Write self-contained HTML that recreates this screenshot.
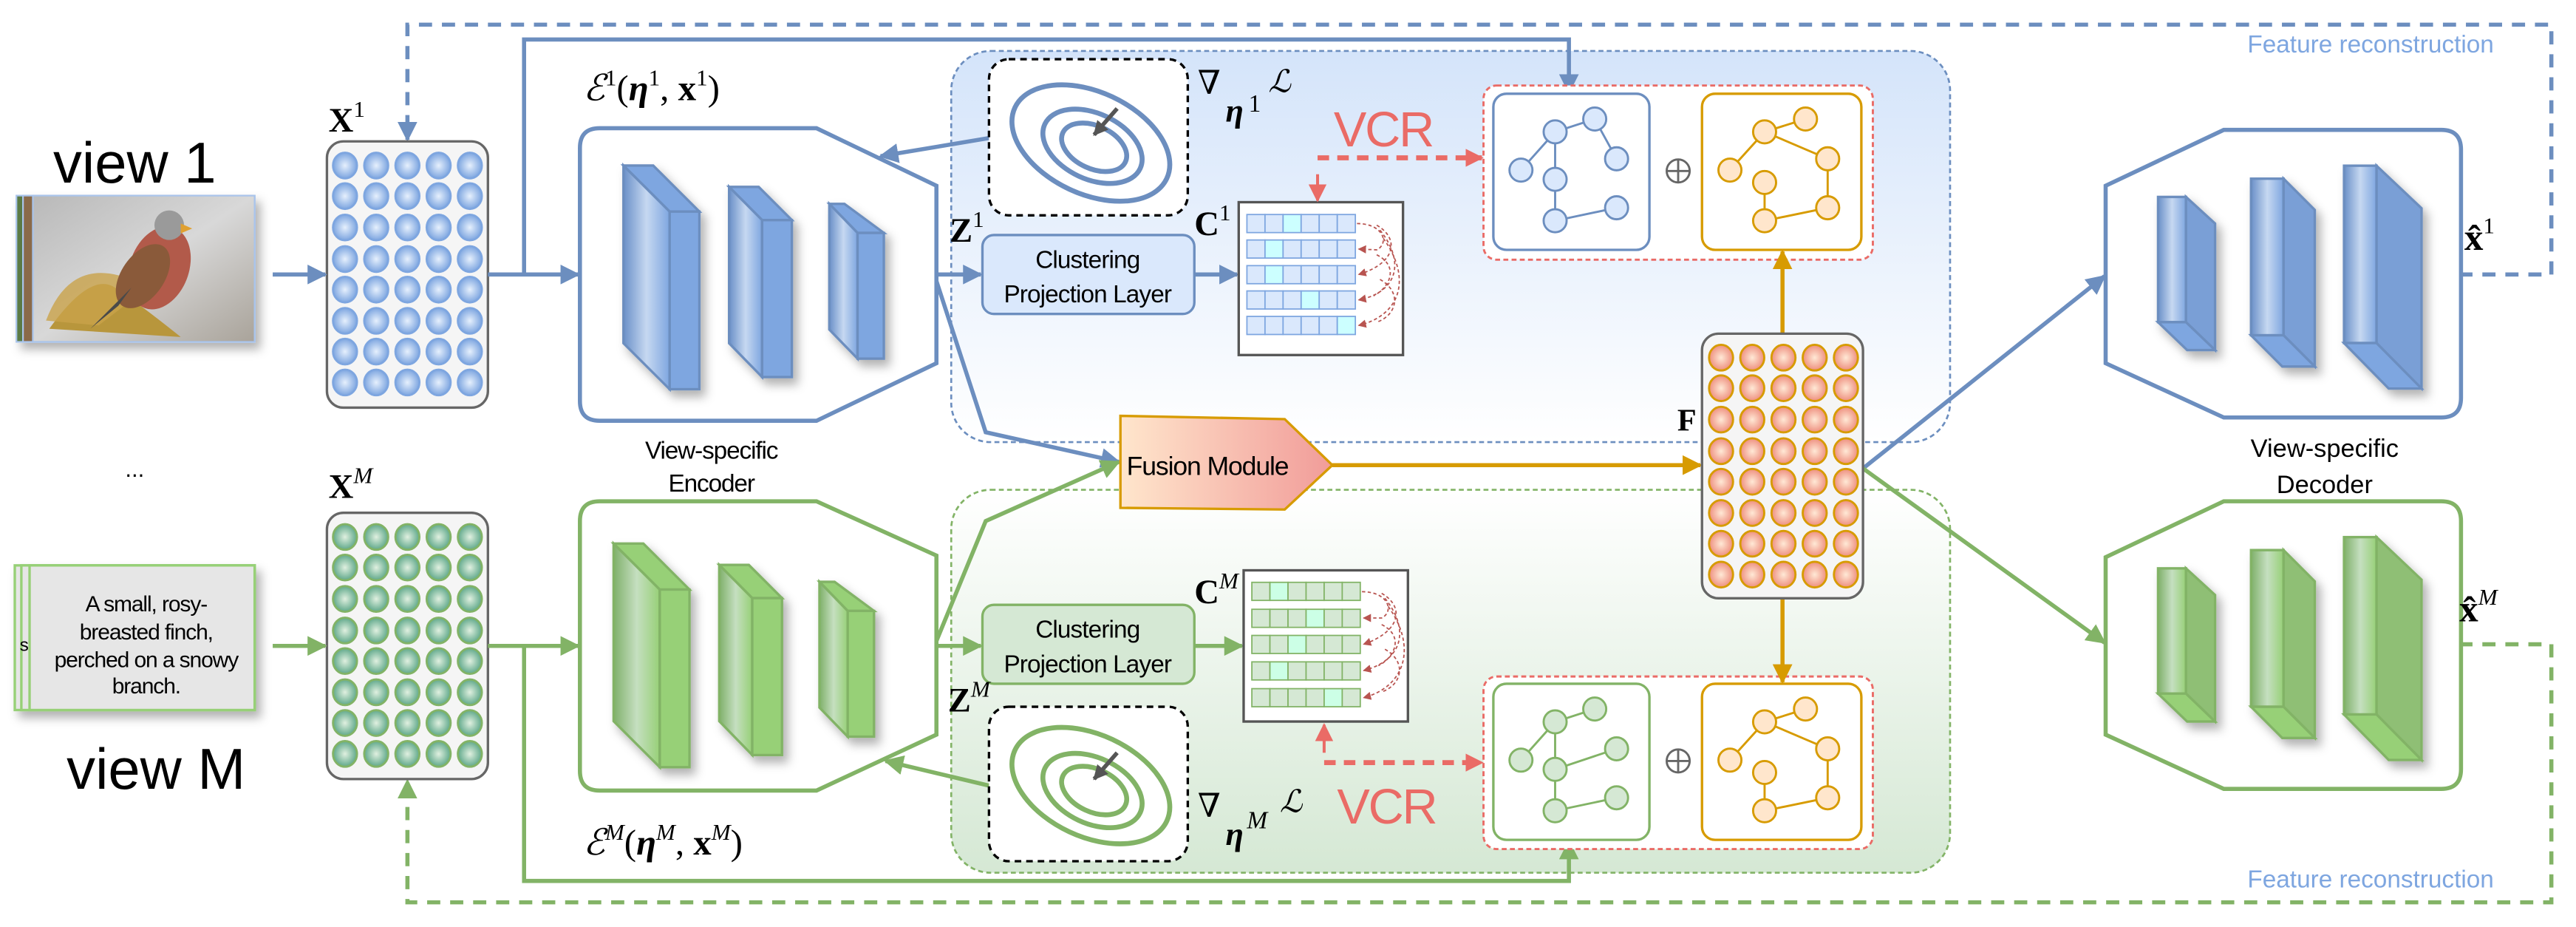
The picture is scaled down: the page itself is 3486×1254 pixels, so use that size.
<!DOCTYPE html>
<html><head><meta charset="utf-8"><style>
html,body{margin:0;padding:0;background:#fff}
svg{display:block}
.s{font-family:"Liberation Sans","DejaVu Sans",sans-serif}
.m{font-family:"Liberation Serif","DejaVu Serif",serif}
</style></head><body>
<svg width="3486" height="1254" viewBox="0 0 1568 564" xmlns="http://www.w3.org/2000/svg">
<defs>
<marker id="ab" viewBox="0 0 10 10" refX="9" refY="5" markerWidth="12" markerHeight="12" markerUnits="userSpaceOnUse" orient="auto"><path d="M0,0L10,5L0,10z" fill="#6c8ebf"/></marker>
<marker id="ag" viewBox="0 0 10 10" refX="9" refY="5" markerWidth="12" markerHeight="12" markerUnits="userSpaceOnUse" orient="auto"><path d="M0,0L10,5L0,10z" fill="#82b366"/></marker>
<marker id="ao" viewBox="0 0 10 10" refX="9" refY="5" markerWidth="12" markerHeight="12" markerUnits="userSpaceOnUse" orient="auto"><path d="M0,0L10,5L0,10z" fill="#d79b00"/></marker>
<marker id="ar" viewBox="0 0 10 10" refX="9" refY="5" markerWidth="11" markerHeight="11" markerUnits="userSpaceOnUse" orient="auto"><path d="M0,0L10,5L0,10z" fill="#ea6b66"/></marker>
<marker id="ard" viewBox="0 0 10 10" refX="9" refY="5" markerWidth="5" markerHeight="5" markerUnits="userSpaceOnUse" orient="auto"><path d="M0,0L10,5L0,10z" fill="#b85450"/></marker>
<marker id="ak" viewBox="0 0 10 10" refX="9" refY="5" markerWidth="9" markerHeight="9" markerUnits="userSpaceOnUse" orient="auto"><path d="M0,0L10,5L0,10z" fill="#555"/></marker>
<radialGradient id="cb" cx="0.5" cy="0.5" r="0.5"><stop offset="0" stop-color="#e6f0fd"/><stop offset="1" stop-color="#7ea6e0"/></radialGradient>
<radialGradient id="cg" cx="0.5" cy="0.5" r="0.5"><stop offset="0" stop-color="#e0f0e0"/><stop offset="1" stop-color="#5fa88a"/></radialGradient>
<radialGradient id="co" cx="0.5" cy="0.5" r="0.5"><stop offset="0" stop-color="#ffe9d6"/><stop offset="1" stop-color="#ee8f7f"/></radialGradient>
<linearGradient id="rb" x1="0" y1="0" x2="0" y2="1"><stop offset="0" stop-color="#d4e4fa"/><stop offset="1" stop-color="#ffffff"/></linearGradient>
<linearGradient id="rg" x1="0" y1="0" x2="0" y2="1"><stop offset="0" stop-color="#ffffff"/><stop offset="1" stop-color="#d5e8d4"/></linearGradient>
<linearGradient id="fu" x1="0" y1="0" x2="1" y2="0"><stop offset="0" stop-color="#ffe6cc"/><stop offset="1" stop-color="#f19c99"/></linearGradient>
<linearGradient id="bb" x1="0" y1="0" x2="1" y2="0"><stop offset="0" stop-color="#6a90c8"/><stop offset="0.5" stop-color="#c6d8f1"/><stop offset="1" stop-color="#7ea6e0"/></linearGradient>
<linearGradient id="gb" x1="0" y1="0" x2="1" y2="0"><stop offset="0" stop-color="#7fb06a"/><stop offset="0.5" stop-color="#c5dfc0"/><stop offset="1" stop-color="#97d077"/></linearGradient>
<linearGradient id="bird" x1="0" y1="0" x2="1" y2="1"><stop offset="0" stop-color="#b9b9b9"/><stop offset="0.5" stop-color="#d8d8d8"/><stop offset="1" stop-color="#a9a39a"/></linearGradient>
<filter id="sh" x="-20%" y="-20%" width="150%" height="150%"><feDropShadow dx="3" dy="4" stdDeviation="3" flood-color="#000" flood-opacity="0.3"/></filter>
</defs>

<rect x="579" y="31" width="608" height="238" rx="24" fill="url(#rb)" stroke="#6c8ebf" stroke-width="1.2" stroke-dasharray="3,2"/>
<rect x="579" y="298" width="608" height="233" rx="24" fill="url(#rg)" stroke="#82b366" stroke-width="1.2" stroke-dasharray="3,2"/>

<polyline points="1497,167 1553,167 1553,15 248,15 248,85" fill="none" stroke="#6c8ebf" stroke-width="2.5" stroke-dasharray="8,6" marker-end="url(#ab)"/>
<polyline points="1497,392 1553,392 1553,549 248,549 248,475" fill="none" stroke="#82b366" stroke-width="2.5" stroke-dasharray="8,6" marker-end="url(#ag)"/>
<text class="s" x="1518" y="32" font-size="15" fill="#7ea6e0" text-anchor="end">Feature reconstruction</text>
<text class="s" x="1518" y="540" font-size="15" fill="#7ea6e0" text-anchor="end">Feature reconstruction</text>

<text class="s" x="82" y="111" font-size="35" text-anchor="middle">view 1</text>
<text class="s" x="82" y="290" font-size="14" text-anchor="middle">...</text>
<text class="s" x="95" y="480" font-size="35" text-anchor="middle">view M</text>
<g filter="url(#sh)">
<rect x="10" y="119" width="145" height="89" fill="#5a7a45" stroke="#a9c4eb"/>
<rect x="14" y="119" width="141" height="89" fill="#8a6a4a" stroke="#a9c4eb"/>
<rect x="20" y="119" width="135" height="89" fill="url(#bird)" stroke="#a9c4eb"/>
</g>
<path d="M30,200 Q55,165 70,175 Q85,185 110,205 Z" fill="#b8963c"/>
<path d="M28,195 Q45,150 90,175 L60,198 Z" fill="#c9a34a" opacity="0.8"/>
<ellipse cx="97" cy="163" rx="18" ry="26" fill="#b25a4a" transform="rotate(20 97 163)"/>
<ellipse cx="87" cy="168" rx="13" ry="22" fill="#8a5a3a" transform="rotate(35 87 168)"/>
<circle cx="103" cy="137" r="9" fill="#9a9a9a"/>
<path d="M110,136 L117,139 L110,142 Z" fill="#e0a030"/>
<path d="M80,175 L55,200 L72,186 Z" fill="#4a4a4a"/>
<g filter="url(#sh)">
<rect x="9" y="344" width="146" height="88" fill="#e6e6e6" stroke="#97d077" stroke-width="1.5"/>
<rect x="13" y="344" width="142" height="88" fill="#e6e6e6" stroke="#97d077" stroke-width="1.5"/>
<rect x="18" y="344" width="137" height="88" fill="#e6e6e6" stroke="#97d077" stroke-width="1.5"/>
</g>
<text class="s" x="12" y="396" font-size="11">s</text>
<g class="s" font-size="13.5" text-anchor="middle" letter-spacing="-0.5">
<text x="89" y="372">A small, rosy-</text>
<text x="89" y="389">breasted finch,</text>
<text x="89" y="406">perched on a snowy</text>
<text x="89" y="422">branch.</text>
</g>

<rect x="199" y="86" width="98" height="162" rx="10" fill="#f5f5f5" stroke="#666" stroke-width="1.5"/>
<rect x="199" y="312" width="98" height="162" rx="10" fill="#f5f5f5" stroke="#666" stroke-width="1.5"/>
<text class="m" x="200" y="80" font-size="21" font-weight="bold">X<tspan font-size="14" dy="-9" font-weight="normal">1</tspan></text>
<text class="m" x="200" y="303" font-size="21" font-weight="bold">X<tspan font-size="14" dy="-9" font-weight="normal" font-style="italic">M</tspan></text>

<g fill="none" stroke="#6c8ebf" stroke-width="2.5">
<line x1="166" y1="167" x2="198" y2="167" marker-end="url(#ab)"/>
<line x1="297" y1="167" x2="352" y2="167" marker-end="url(#ab)"/>
<polyline points="319,167 319,24 955,24 955,56" marker-end="url(#ab)"/>
<line x1="570" y1="167" x2="597" y2="167" marker-end="url(#ab)"/>
<polyline points="570,171 600,263 681,281" marker-end="url(#ab)"/>
<line x1="602" y1="84" x2="536" y2="95" marker-end="url(#ab)"/>
<line x1="727" y1="167" x2="753" y2="167" marker-end="url(#ab)"/>
<line x1="1134" y1="285" x2="1281" y2="168" marker-end="url(#ab)"/>
</g>
<g fill="none" stroke="#82b366" stroke-width="2.5">
<line x1="166" y1="393" x2="198" y2="393" marker-end="url(#ag)"/>
<line x1="297" y1="393" x2="352" y2="393" marker-end="url(#ag)"/>
<polyline points="319,393 319,536 955,536 955,512" marker-end="url(#ag)"/>
<line x1="570" y1="393" x2="597" y2="393" marker-end="url(#ag)"/>
<polyline points="570,390 600,317 681,281" marker-end="url(#ag)"/>
<line x1="602" y1="478" x2="539" y2="463" marker-end="url(#ag)"/>
<line x1="727" y1="393" x2="756" y2="393" marker-end="url(#ag)"/>
<line x1="1134" y1="285" x2="1281" y2="391" marker-end="url(#ag)"/>
</g>

<path d="M365,78 H497 L570,113 V221 L497,256 H365 Q353,256 353,244 V90 Q353,78 365,78 Z" fill="#fff" stroke="#6c8ebf" stroke-width="2.5"/>
<path d="M365,305 H497 L570,338 V447 L497,481 H365 Q353,481 353,469 V317 Q353,305 365,305 Z" fill="#fff" stroke="#82b366" stroke-width="2.5"/>
<g stroke="#6c8ebf" stroke-width="1.5" filter="url(#sh)">
<path d="M379.5,100.7 L397.6,100.7 L425.7,128.7 L407.6,128.7 Z" fill="#7ea6e0"/>
<path d="M379.5,100.7 L407.6,128.7 L407.6,236.8 L379.5,208.8 Z" fill="url(#bb)"/>
<rect x="407.6" y="128.7" width="18.1" height="108.1" fill="#7ea6e0"/>
<path d="M443.8,113.7 L461.8,113.7 L482,133.9 L463.9,133.9 Z" fill="#7ea6e0"/>
<path d="M443.8,113.7 L463.9,133.9 L463.9,229.4 L443.8,208.8 Z" fill="url(#bb)"/>
<rect x="463.9" y="133.9" width="18.1" height="95.5" fill="#7ea6e0"/>
<path d="M504.8,124 L514,124 L538,141.7 L522,141.7 Z" fill="#7ea6e0"/>
<path d="M504.8,124 L522,141.7 L522,218.2 L504.8,200.5 Z" fill="url(#bb)"/>
<rect x="522" y="141.7" width="16" height="76.5" fill="#7ea6e0"/>
</g>
<g transform="translate(-6,230)" stroke="#82b366" stroke-width="1.5" filter="url(#sh)">
<path d="M379.5,100.7 L397.6,100.7 L425.7,128.7 L407.6,128.7 Z" fill="#97d077"/>
<path d="M379.5,100.7 L407.6,128.7 L407.6,236.8 L379.5,208.8 Z" fill="url(#gb)"/>
<rect x="407.6" y="128.7" width="18.1" height="108.1" fill="#97d077"/>
<path d="M443.8,113.7 L461.8,113.7 L482,133.9 L463.9,133.9 Z" fill="#97d077"/>
<path d="M443.8,113.7 L463.9,133.9 L463.9,229.4 L443.8,208.8 Z" fill="url(#gb)"/>
<rect x="463.9" y="133.9" width="18.1" height="95.5" fill="#97d077"/>
<path d="M504.8,124 L514,124 L538,141.7 L522,141.7 Z" fill="#97d077"/>
<path d="M504.8,124 L522,141.7 L522,218.2 L504.8,200.5 Z" fill="url(#gb)"/>
<rect x="522" y="141.7" width="16" height="76.5" fill="#97d077"/>
</g>
<g class="s" font-size="15" text-anchor="middle" letter-spacing="-0.5">
<text x="433" y="279">View-specific</text>
<text x="433" y="299">Encoder</text>
</g>
<text class="m" x="355" y="61" font-size="22" font-style="italic">ℰ<tspan font-size="14" dy="-9" font-style="normal">1</tspan><tspan dy="9" font-style="normal">(</tspan><tspan font-weight="bold">η</tspan><tspan font-size="14" dy="-9" font-style="normal">1</tspan><tspan dy="9" font-style="normal">, </tspan><tspan font-weight="bold" font-style="normal">x</tspan><tspan font-size="14" dy="-9" font-style="normal">1</tspan><tspan dy="9" font-style="normal">)</tspan></text>
<text class="m" x="355" y="520" font-size="22" font-style="italic">ℰ<tspan font-size="14" dy="-9">M</tspan><tspan dy="9" font-style="normal">(</tspan><tspan font-weight="bold">η</tspan><tspan font-size="14" dy="-9">M</tspan><tspan dy="9" font-style="normal">, </tspan><tspan font-weight="bold" font-style="normal">x</tspan><tspan font-size="14" dy="-9">M</tspan><tspan dy="9" font-style="normal">)</tspan></text>

<rect x="602" y="36" width="121" height="95" rx="12" fill="#fff" stroke="#000" stroke-width="1.5" stroke-dasharray="4,3"/>
<g fill="none" stroke="#6c8ebf" stroke-width="3">
<ellipse cx="664" cy="87" rx="51" ry="31" transform="rotate(25 664 87)"/>
<ellipse cx="665" cy="89" rx="32" ry="20" transform="rotate(25 665 89)"/>
<ellipse cx="666" cy="89.6" rx="21" ry="13" transform="rotate(25 666 89.6)"/>
</g>
<line x1="680" y1="66" x2="666" y2="82" stroke="#555" stroke-width="2.5" marker-end="url(#ak)"/>
<rect x="602" y="430" width="121" height="94" rx="12" fill="#fff" stroke="#000" stroke-width="1.5" stroke-dasharray="4,3"/>
<g fill="none" stroke="#82b366" stroke-width="3">
<ellipse cx="664" cy="478" rx="51" ry="31" transform="rotate(25 664 478)"/>
<ellipse cx="665" cy="481" rx="32" ry="20" transform="rotate(25 665 481)"/>
<ellipse cx="666" cy="481" rx="21" ry="13" transform="rotate(25 666 481)"/>
</g>
<line x1="680" y1="458" x2="666" y2="474" stroke="#555" stroke-width="2.5" marker-end="url(#ak)"/>
<text class="m" x="729" y="57" font-size="20">∇</text>
<text class="m" x="746" y="74" font-size="20" font-style="italic" font-weight="bold">η</text>
<text class="m" x="760" y="68" font-size="15">1</text>
<text class="m" x="772" y="56" font-size="19" font-style="italic">ℒ</text>
<text class="m" x="729" y="497" font-size="20">∇</text>
<text class="m" x="746" y="514" font-size="20" font-style="italic" font-weight="bold">η</text>
<text class="m" x="759" y="504" font-size="15" font-style="italic">M</text>
<text class="m" x="779" y="494" font-size="19" font-style="italic">ℒ</text>

<rect x="598" y="143" width="129" height="48" rx="7" fill="#dae8fc" stroke="#6c8ebf" stroke-width="1.5"/>
<rect x="598" y="368" width="129" height="48" rx="7" fill="#d5e8d4" stroke="#82b366" stroke-width="1.5"/>
<g class="s" font-size="15" text-anchor="middle" letter-spacing="-0.4">
<text x="662" y="163">Clustering</text><text x="662" y="184">Projection Layer</text>
<text x="662" y="388">Clustering</text><text x="662" y="409">Projection Layer</text>
</g>
<text class="m" x="578" y="147" font-size="21" font-weight="bold">Z<tspan font-size="14" dy="-9" font-weight="normal">1</tspan></text>
<text class="m" x="577" y="433" font-size="21" font-weight="bold">Z<tspan font-size="14" dy="-9" font-weight="normal" font-style="italic">M</tspan></text>

<rect x="754" y="123" width="100" height="93" fill="#fff" stroke="#555" stroke-width="1.5"/>
<rect x="757" y="347" width="100" height="92" fill="#fff" stroke="#555" stroke-width="1.5"/>
<text class="m" x="727" y="143" font-size="21" font-weight="bold">C<tspan font-size="14" dy="-9" font-weight="normal">1</tspan></text>
<text class="m" x="727" y="367" font-size="21" font-weight="bold">C<tspan font-size="14" dy="-9" font-weight="normal" font-style="italic">M</tspan></text>

<text class="s" x="842" y="89" font-size="30" fill="#ea6b66" text-anchor="middle" letter-spacing="-1">VCR</text>
<text class="s" x="844" y="501" font-size="30" fill="#ea6b66" text-anchor="middle" letter-spacing="-1">VCR</text>
<g fill="none" stroke="#ea6b66" stroke-width="3" stroke-dasharray="7,5">
<line x1="802" y1="96" x2="902" y2="96" marker-end="url(#ar)"/>
<line x1="806" y1="464" x2="902" y2="464" marker-end="url(#ar)"/>
</g>
<g fill="none" stroke="#ea6b66" stroke-width="1.8">
<line x1="802" y1="106" x2="802" y2="122" marker-end="url(#ar)"/>
<line x1="806" y1="458" x2="806" y2="441" marker-end="url(#ar)"/>
</g>

<rect x="903" y="52" width="237" height="106" rx="8" fill="#fff" stroke="#ea6b66" stroke-width="1.3" stroke-dasharray="3,2"/>
<rect x="909" y="57" width="95" height="95" rx="8" fill="#fff" stroke="#6c8ebf" stroke-width="1.5"/>
<rect x="1036" y="57" width="97" height="95" rx="8" fill="#fff" stroke="#d79b00" stroke-width="1.5"/>
<rect x="903" y="411.6" width="237" height="105" rx="8" fill="#fff" stroke="#ea6b66" stroke-width="1.3" stroke-dasharray="3,2"/>
<rect x="909" y="416" width="95" height="95" rx="8" fill="#fff" stroke="#82b366" stroke-width="1.5"/>
<rect x="1036" y="416" width="97" height="95" rx="8" fill="#fff" stroke="#d79b00" stroke-width="1.5"/>
<g stroke="#666" stroke-width="1.3" fill="none">
<circle cx="1021.5" cy="104" r="7"/><line x1="1014.5" y1="104" x2="1028.5" y2="104"/><line x1="1021.5" y1="97" x2="1021.5" y2="111"/>
<circle cx="1021.5" cy="463" r="7"/><line x1="1014.5" y1="463" x2="1028.5" y2="463"/><line x1="1021.5" y1="456" x2="1021.5" y2="470"/>
</g>

<path d="M682,253 L782,255 L811,283 L782,310 L682,309 Z" fill="url(#fu)" stroke="#d79b00" stroke-width="1.5"/>
<text class="s" x="735" y="289" font-size="16" text-anchor="middle" letter-spacing="-0.5">Fusion Module</text>
<g stroke="#d79b00" stroke-width="2.5" fill="none">
<line x1="811" y1="283" x2="1035" y2="283" marker-end="url(#ao)"/>
<line x1="1085" y1="203" x2="1085" y2="153" marker-end="url(#ao)"/>
<line x1="1085" y1="364" x2="1085" y2="415" marker-end="url(#ao)"/>
</g>
<rect x="1036" y="203" width="98" height="161" rx="10" fill="#f5f5f5" stroke="#666" stroke-width="1.5"/>
<text class="m" x="1021" y="262" font-size="19" font-weight="bold">F</text>

<path d="M1281.7,113 L1353.6,79 H1486 Q1498,79 1498,91 V242 Q1498,254 1486,254 H1353.6 L1281.7,221 Z" fill="#fff" stroke="#6c8ebf" stroke-width="2.5"/>
<path d="M1281.7,339 L1353.6,305 H1486 Q1498,305 1498,317 V468 Q1498,480 1486,480 H1353.6 L1281.7,447 Z" fill="#fff" stroke="#82b366" stroke-width="2.5"/>
<g stroke="#6c8ebf" stroke-width="1.5" filter="url(#sh)">
<rect x="1313.6" y="119.8" width="17" height="76.2" fill="url(#bb)"/>
<path d="M1330.6,119.8 L1348.3,136 L1348.3,213 L1330.6,196 Z" fill="#7a9fd6"/>
<path d="M1313.6,196 L1330.6,196 L1348.3,213 L1331.3,213 Z" fill="#7ea6e0"/>
<rect x="1370.2" y="108.7" width="19.8" height="95.3" fill="url(#bb)"/>
<path d="M1390,108.7 L1409,127.7 L1409,223 L1390,204 Z" fill="#7a9fd6"/>
<path d="M1370.2,204 L1390,204 L1409,223 L1389.2,223 Z" fill="#7ea6e0"/>
<rect x="1426.8" y="100.8" width="19.8" height="107.9" fill="url(#bb)"/>
<path d="M1446.6,100.8 L1474,126.7 L1474,236.4 L1446.6,208.7 Z" fill="#7a9fd6"/>
<path d="M1426.8,208.7 L1446.6,208.7 L1474,236.4 L1454,236.4 Z" fill="#7ea6e0"/>
</g>
<g transform="translate(0,226)" stroke="#82b366" stroke-width="1.5" filter="url(#sh)">
<rect x="1313.6" y="119.8" width="17" height="76.2" fill="url(#gb)"/>
<path d="M1330.6,119.8 L1348.3,136 L1348.3,213 L1330.6,196 Z" fill="#8fbf75"/>
<path d="M1313.6,196 L1330.6,196 L1348.3,213 L1331.3,213 Z" fill="#97d077"/>
<rect x="1370.2" y="108.7" width="19.8" height="95.3" fill="url(#gb)"/>
<path d="M1390,108.7 L1409,127.7 L1409,223 L1390,204 Z" fill="#8fbf75"/>
<path d="M1370.2,204 L1390,204 L1409,223 L1389.2,223 Z" fill="#97d077"/>
<rect x="1426.8" y="100.8" width="19.8" height="107.9" fill="url(#gb)"/>
<path d="M1446.6,100.8 L1474,126.7 L1474,236.4 L1446.6,208.7 Z" fill="#8fbf75"/>
<path d="M1426.8,208.7 L1446.6,208.7 L1474,236.4 L1454,236.4 Z" fill="#97d077"/>
</g>
<g class="s" font-size="15.5" text-anchor="middle">
<text x="1415" y="278">View-specific</text>
<text x="1415" y="300">Decoder</text>
</g>
<text class="m" x="1500" y="152" font-size="23" font-weight="bold">x̂<tspan font-size="14" dy="-10" font-weight="normal">1</tspan></text>
<text class="m" x="1497" y="378" font-size="23" font-weight="bold">x̂<tspan font-size="14" dy="-10" font-weight="normal" font-style="italic">M</tspan></text>

<g stroke-width="1.3">
<g fill="url(#cb)" stroke="#7ea6e0">
<ellipse cx="210" cy="100.7" rx="7.3" ry="7.8"/><ellipse cx="229" cy="100.7" rx="7.3" ry="7.8"/><ellipse cx="248" cy="100.7" rx="7.3" ry="7.8"/><ellipse cx="267" cy="100.7" rx="7.3" ry="7.8"/><ellipse cx="286" cy="100.7" rx="7.3" ry="7.8"/>
<ellipse cx="210" cy="119.3" rx="7.3" ry="7.8"/><ellipse cx="229" cy="119.3" rx="7.3" ry="7.8"/><ellipse cx="248" cy="119.3" rx="7.3" ry="7.8"/><ellipse cx="267" cy="119.3" rx="7.3" ry="7.8"/><ellipse cx="286" cy="119.3" rx="7.3" ry="7.8"/>
<ellipse cx="210" cy="138.4" rx="7.3" ry="7.8"/><ellipse cx="229" cy="138.4" rx="7.3" ry="7.8"/><ellipse cx="248" cy="138.4" rx="7.3" ry="7.8"/><ellipse cx="267" cy="138.4" rx="7.3" ry="7.8"/><ellipse cx="286" cy="138.4" rx="7.3" ry="7.8"/>
<ellipse cx="210" cy="157.6" rx="7.3" ry="7.8"/><ellipse cx="229" cy="157.6" rx="7.3" ry="7.8"/><ellipse cx="248" cy="157.6" rx="7.3" ry="7.8"/><ellipse cx="267" cy="157.6" rx="7.3" ry="7.8"/><ellipse cx="286" cy="157.6" rx="7.3" ry="7.8"/>
<ellipse cx="210" cy="176.2" rx="7.3" ry="7.8"/><ellipse cx="229" cy="176.2" rx="7.3" ry="7.8"/><ellipse cx="248" cy="176.2" rx="7.3" ry="7.8"/><ellipse cx="267" cy="176.2" rx="7.3" ry="7.8"/><ellipse cx="286" cy="176.2" rx="7.3" ry="7.8"/>
<ellipse cx="210" cy="195.2" rx="7.3" ry="7.8"/><ellipse cx="229" cy="195.2" rx="7.3" ry="7.8"/><ellipse cx="248" cy="195.2" rx="7.3" ry="7.8"/><ellipse cx="267" cy="195.2" rx="7.3" ry="7.8"/><ellipse cx="286" cy="195.2" rx="7.3" ry="7.8"/>
<ellipse cx="210" cy="213.9" rx="7.3" ry="7.8"/><ellipse cx="229" cy="213.9" rx="7.3" ry="7.8"/><ellipse cx="248" cy="213.9" rx="7.3" ry="7.8"/><ellipse cx="267" cy="213.9" rx="7.3" ry="7.8"/><ellipse cx="286" cy="213.9" rx="7.3" ry="7.8"/>
<ellipse cx="210" cy="232.7" rx="7.3" ry="7.8"/><ellipse cx="229" cy="232.7" rx="7.3" ry="7.8"/><ellipse cx="248" cy="232.7" rx="7.3" ry="7.8"/><ellipse cx="267" cy="232.7" rx="7.3" ry="7.8"/><ellipse cx="286" cy="232.7" rx="7.3" ry="7.8"/>
</g>
<g fill="url(#cg)" stroke="#82b366" transform="translate(0,226)">
<ellipse cx="210" cy="100.7" rx="7.3" ry="7.8"/><ellipse cx="229" cy="100.7" rx="7.3" ry="7.8"/><ellipse cx="248" cy="100.7" rx="7.3" ry="7.8"/><ellipse cx="267" cy="100.7" rx="7.3" ry="7.8"/><ellipse cx="286" cy="100.7" rx="7.3" ry="7.8"/>
<ellipse cx="210" cy="119.3" rx="7.3" ry="7.8"/><ellipse cx="229" cy="119.3" rx="7.3" ry="7.8"/><ellipse cx="248" cy="119.3" rx="7.3" ry="7.8"/><ellipse cx="267" cy="119.3" rx="7.3" ry="7.8"/><ellipse cx="286" cy="119.3" rx="7.3" ry="7.8"/>
<ellipse cx="210" cy="138.4" rx="7.3" ry="7.8"/><ellipse cx="229" cy="138.4" rx="7.3" ry="7.8"/><ellipse cx="248" cy="138.4" rx="7.3" ry="7.8"/><ellipse cx="267" cy="138.4" rx="7.3" ry="7.8"/><ellipse cx="286" cy="138.4" rx="7.3" ry="7.8"/>
<ellipse cx="210" cy="157.6" rx="7.3" ry="7.8"/><ellipse cx="229" cy="157.6" rx="7.3" ry="7.8"/><ellipse cx="248" cy="157.6" rx="7.3" ry="7.8"/><ellipse cx="267" cy="157.6" rx="7.3" ry="7.8"/><ellipse cx="286" cy="157.6" rx="7.3" ry="7.8"/>
<ellipse cx="210" cy="176.2" rx="7.3" ry="7.8"/><ellipse cx="229" cy="176.2" rx="7.3" ry="7.8"/><ellipse cx="248" cy="176.2" rx="7.3" ry="7.8"/><ellipse cx="267" cy="176.2" rx="7.3" ry="7.8"/><ellipse cx="286" cy="176.2" rx="7.3" ry="7.8"/>
<ellipse cx="210" cy="195.2" rx="7.3" ry="7.8"/><ellipse cx="229" cy="195.2" rx="7.3" ry="7.8"/><ellipse cx="248" cy="195.2" rx="7.3" ry="7.8"/><ellipse cx="267" cy="195.2" rx="7.3" ry="7.8"/><ellipse cx="286" cy="195.2" rx="7.3" ry="7.8"/>
<ellipse cx="210" cy="213.9" rx="7.3" ry="7.8"/><ellipse cx="229" cy="213.9" rx="7.3" ry="7.8"/><ellipse cx="248" cy="213.9" rx="7.3" ry="7.8"/><ellipse cx="267" cy="213.9" rx="7.3" ry="7.8"/><ellipse cx="286" cy="213.9" rx="7.3" ry="7.8"/>
<ellipse cx="210" cy="232.7" rx="7.3" ry="7.8"/><ellipse cx="229" cy="232.7" rx="7.3" ry="7.8"/><ellipse cx="248" cy="232.7" rx="7.3" ry="7.8"/><ellipse cx="267" cy="232.7" rx="7.3" ry="7.8"/><ellipse cx="286" cy="232.7" rx="7.3" ry="7.8"/>
</g>
<g fill="url(#co)" stroke="#d79b00" transform="translate(837.6,116.9)">
<ellipse cx="210" cy="100.7" rx="7.3" ry="7.8"/><ellipse cx="229" cy="100.7" rx="7.3" ry="7.8"/><ellipse cx="248" cy="100.7" rx="7.3" ry="7.8"/><ellipse cx="267" cy="100.7" rx="7.3" ry="7.8"/><ellipse cx="286" cy="100.7" rx="7.3" ry="7.8"/>
<ellipse cx="210" cy="119.3" rx="7.3" ry="7.8"/><ellipse cx="229" cy="119.3" rx="7.3" ry="7.8"/><ellipse cx="248" cy="119.3" rx="7.3" ry="7.8"/><ellipse cx="267" cy="119.3" rx="7.3" ry="7.8"/><ellipse cx="286" cy="119.3" rx="7.3" ry="7.8"/>
<ellipse cx="210" cy="138.4" rx="7.3" ry="7.8"/><ellipse cx="229" cy="138.4" rx="7.3" ry="7.8"/><ellipse cx="248" cy="138.4" rx="7.3" ry="7.8"/><ellipse cx="267" cy="138.4" rx="7.3" ry="7.8"/><ellipse cx="286" cy="138.4" rx="7.3" ry="7.8"/>
<ellipse cx="210" cy="157.6" rx="7.3" ry="7.8"/><ellipse cx="229" cy="157.6" rx="7.3" ry="7.8"/><ellipse cx="248" cy="157.6" rx="7.3" ry="7.8"/><ellipse cx="267" cy="157.6" rx="7.3" ry="7.8"/><ellipse cx="286" cy="157.6" rx="7.3" ry="7.8"/>
<ellipse cx="210" cy="176.2" rx="7.3" ry="7.8"/><ellipse cx="229" cy="176.2" rx="7.3" ry="7.8"/><ellipse cx="248" cy="176.2" rx="7.3" ry="7.8"/><ellipse cx="267" cy="176.2" rx="7.3" ry="7.8"/><ellipse cx="286" cy="176.2" rx="7.3" ry="7.8"/>
<ellipse cx="210" cy="195.2" rx="7.3" ry="7.8"/><ellipse cx="229" cy="195.2" rx="7.3" ry="7.8"/><ellipse cx="248" cy="195.2" rx="7.3" ry="7.8"/><ellipse cx="267" cy="195.2" rx="7.3" ry="7.8"/><ellipse cx="286" cy="195.2" rx="7.3" ry="7.8"/>
<ellipse cx="210" cy="213.9" rx="7.3" ry="7.8"/><ellipse cx="229" cy="213.9" rx="7.3" ry="7.8"/><ellipse cx="248" cy="213.9" rx="7.3" ry="7.8"/><ellipse cx="267" cy="213.9" rx="7.3" ry="7.8"/><ellipse cx="286" cy="213.9" rx="7.3" ry="7.8"/>
<ellipse cx="210" cy="232.7" rx="7.3" ry="7.8"/><ellipse cx="229" cy="232.7" rx="7.3" ry="7.8"/><ellipse cx="248" cy="232.7" rx="7.3" ry="7.8"/><ellipse cx="267" cy="232.7" rx="7.3" ry="7.8"/><ellipse cx="286" cy="232.7" rx="7.3" ry="7.8"/>
</g>
</g>

<g stroke="#7ea6e0" stroke-width="0.8" fill="#dae8fc">
<g transform="translate(759,130.5)"><rect x="0" width="11" height="11"/><rect x="11" width="11" height="11"/><rect x="22" width="11" height="11" fill="#ccffff"/><rect x="33" width="11" height="11"/><rect x="44" width="11" height="11"/><rect x="55" width="11" height="11"/></g>
<g transform="translate(759,146)"><rect x="0" width="11" height="11"/><rect x="11" width="11" height="11" fill="#ccffff"/><rect x="22" width="11" height="11"/><rect x="33" width="11" height="11"/><rect x="44" width="11" height="11"/><rect x="55" width="11" height="11"/></g>
<g transform="translate(759,161.6)"><rect x="0" width="11" height="11"/><rect x="11" width="11" height="11" fill="#ccffff"/><rect x="22" width="11" height="11"/><rect x="33" width="11" height="11"/><rect x="44" width="11" height="11"/><rect x="55" width="11" height="11"/></g>
<g transform="translate(759,177)"><rect x="0" width="11" height="11"/><rect x="11" width="11" height="11"/><rect x="22" width="11" height="11"/><rect x="33" width="11" height="11" fill="#ccffff"/><rect x="44" width="11" height="11"/><rect x="55" width="11" height="11"/></g>
<g transform="translate(759,192.5)"><rect x="0" width="11" height="11"/><rect x="11" width="11" height="11"/><rect x="22" width="11" height="11"/><rect x="33" width="11" height="11"/><rect x="44" width="11" height="11"/><rect x="55" width="11" height="11" fill="#ccffff"/></g>
</g>
<g stroke="#82b366" stroke-width="0.8" fill="#d5e8d4">
<g transform="translate(762,354.3)"><rect x="0" width="11" height="11"/><rect x="11" width="11" height="11" fill="#ccffe6"/><rect x="22" width="11" height="11"/><rect x="33" width="11" height="11"/><rect x="44" width="11" height="11"/><rect x="55" width="11" height="11"/></g>
<g transform="translate(762,370.7)"><rect x="0" width="11" height="11"/><rect x="11" width="11" height="11"/><rect x="22" width="11" height="11"/><rect x="33" width="11" height="11" fill="#ccffe6"/><rect x="44" width="11" height="11"/><rect x="55" width="11" height="11"/></g>
<g transform="translate(762,386.6)"><rect x="0" width="11" height="11"/><rect x="11" width="11" height="11"/><rect x="22" width="11" height="11" fill="#ccffe6"/><rect x="33" width="11" height="11"/><rect x="44" width="11" height="11"/><rect x="55" width="11" height="11"/></g>
<g transform="translate(762,402.7)"><rect x="0" width="11" height="11"/><rect x="11" width="11" height="11" fill="#ccffe6"/><rect x="22" width="11" height="11"/><rect x="33" width="11" height="11"/><rect x="44" width="11" height="11"/><rect x="55" width="11" height="11"/></g>
<g transform="translate(762,419)"><rect x="0" width="11" height="11"/><rect x="11" width="11" height="11"/><rect x="22" width="11" height="11"/><rect x="33" width="11" height="11"/><rect x="44" width="11" height="11" fill="#ccffe6"/><rect x="55" width="11" height="11"/></g>
</g>
<g fill="none" stroke="#b85450" stroke-width="0.8" stroke-dasharray="2,1.5">
<path d="M826,136 C842,136 846,148 838,152 L827,151.5" marker-end="url(#ard)"/>
<path d="M838,137 C852,145 850,160 827,167" marker-end="url(#ard)"/>
<path d="M840,140 C856,160 850,178 827,182.5" marker-end="url(#ard)"/>
<path d="M842,145 C860,170 852,192 827,198" marker-end="url(#ard)"/>
<path d="M838,155 C852,162 846,175 836,180"/>
<path d="M840,170 C854,178 850,192 838,196"/>
<path d="M829,360 C845,360 849,372 841,376 L830,376" marker-end="url(#ard)"/>
<path d="M841,361 C855,369 853,384 830,392" marker-end="url(#ard)"/>
<path d="M843,364 C859,384 853,402 830,408" marker-end="url(#ard)"/>
<path d="M845,369 C863,394 855,418 830,424.5" marker-end="url(#ard)"/>
<path d="M841,380 C855,387 849,400 839,405"/>
<path d="M843,395 C857,403 853,417 841,421"/>
</g>

<g stroke="#6c8ebf" stroke-width="1.3">
<line x1="946.6" y1="80.2" x2="970.7" y2="72.4"/><line x1="946.6" y1="80.2" x2="925.8" y2="103.5"/><line x1="946.6" y1="80.2" x2="946.6" y2="109.1"/><line x1="970.7" y1="72.4" x2="984" y2="96.6"/><line x1="946.6" y1="109.1" x2="946.6" y2="134.3"/><line x1="946.6" y1="134.3" x2="984" y2="126.4"/>
<g fill="#dae8fc"><circle cx="946.6" cy="80.2" r="7"/><circle cx="970.7" cy="72.4" r="7"/><circle cx="925.8" cy="103.5" r="7"/><circle cx="946.6" cy="109.1" r="7"/><circle cx="984" cy="96.6" r="7"/><circle cx="946.6" cy="134.3" r="7"/><circle cx="984" cy="126.4" r="7"/></g>
</g>
<g stroke="#82b366" stroke-width="1.3" transform="translate(0,359)">
<line x1="946.6" y1="80.2" x2="970.7" y2="72.4"/><line x1="946.6" y1="80.2" x2="925.8" y2="103.5"/><line x1="946.6" y1="80.2" x2="946.6" y2="109.1"/><line x1="946.6" y1="109.1" x2="984" y2="96.6"/><line x1="946.6" y1="109.1" x2="946.6" y2="134.3"/><line x1="946.6" y1="134.3" x2="984" y2="126.4"/>
<g fill="#d5e8d4"><circle cx="946.6" cy="80.2" r="7"/><circle cx="970.7" cy="72.4" r="7"/><circle cx="925.8" cy="103.5" r="7"/><circle cx="946.6" cy="109.1" r="7"/><circle cx="984" cy="96.6" r="7"/><circle cx="946.6" cy="134.3" r="7"/><circle cx="984" cy="126.4" r="7"/></g>
</g>
<g stroke="#d79b00" stroke-width="1.3">
<line x1="1074.1" y1="80.2" x2="1099" y2="72.4"/><line x1="1074.1" y1="80.2" x2="1053" y2="103.5"/><line x1="1074.1" y1="80.2" x2="1112.5" y2="96.6"/><line x1="1112.5" y1="96.6" x2="1112.5" y2="126.4"/><line x1="1074.1" y1="111" x2="1074.1" y2="134.3"/><line x1="1074.1" y1="134.3" x2="1112.5" y2="126.4"/>
<g fill="#ffe6cc"><circle cx="1074.1" cy="80.2" r="7"/><circle cx="1099" cy="72.4" r="7"/><circle cx="1053" cy="103.5" r="7"/><circle cx="1074.1" cy="111" r="7"/><circle cx="1112.5" cy="96.6" r="7"/><circle cx="1074.1" cy="134.3" r="7"/><circle cx="1112.5" cy="126.4" r="7"/></g>
</g>
<g stroke="#d79b00" stroke-width="1.3" transform="translate(0,359)">
<line x1="1074.1" y1="80.2" x2="1099" y2="72.4"/><line x1="1074.1" y1="80.2" x2="1053" y2="103.5"/><line x1="1074.1" y1="80.2" x2="1112.5" y2="96.6"/><line x1="1112.5" y1="96.6" x2="1112.5" y2="126.4"/><line x1="1074.1" y1="111" x2="1074.1" y2="134.3"/><line x1="1074.1" y1="134.3" x2="1112.5" y2="126.4"/>
<g fill="#ffe6cc"><circle cx="1074.1" cy="80.2" r="7"/><circle cx="1099" cy="72.4" r="7"/><circle cx="1053" cy="103.5" r="7"/><circle cx="1074.1" cy="111" r="7"/><circle cx="1112.5" cy="96.6" r="7"/><circle cx="1074.1" cy="134.3" r="7"/><circle cx="1112.5" cy="126.4" r="7"/></g>
</g>
</svg>
</body></html>
